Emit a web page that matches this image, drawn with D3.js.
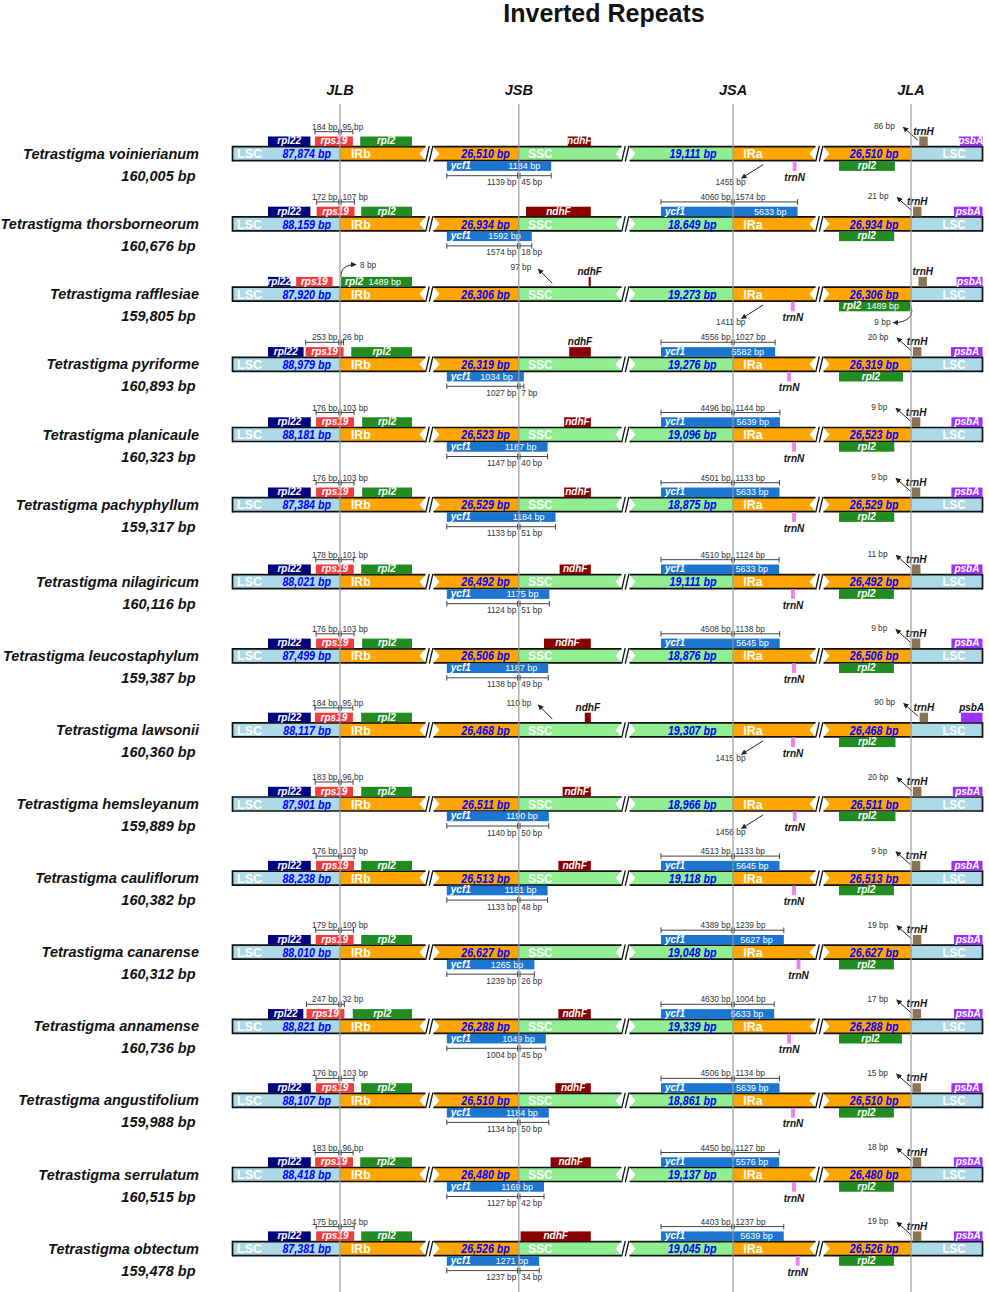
<!DOCTYPE html>
<html>
<head>
<meta charset="utf-8">
<title>Inverted Repeats</title>
<script src="https://cdn.jsdelivr.net/npm/d3@7/dist/d3.min.js"></script>
<style>
  body { margin: 0; background: #fff; }
  svg { display: block; font-family: "Liberation Sans", Arial, Helvetica, sans-serif; }
  .title { font-size: 25px; font-weight: bold; fill: #111; }
  .jname { font-size: 14.5px; font-weight: bold; font-style: italic; fill: #111; }
  .sp { font-size: 14.5px; font-weight: bold; font-style: italic; fill: #111; }
  .region { font-size: 13.5px; font-weight: bold; fill: #fff; }
  .bp { font-size: 13px; font-weight: bold; font-style: italic; fill: #0000ff; }
  .gene { font-size: 10px; font-weight: bold; font-style: italic; fill: #fff; }
  .geneOut { font-size: 10px; font-weight: bold; font-style: italic; fill: #111; }
  .size { font-size: 9px; fill: #fff; }
  .note { font-size: 8.3px; fill: #333; }
</style>
</head>
<body>
<div id="chart"></div>
<script>
// species, genome size and the four regions
const species = ["Tetrastigma voinierianum", "Tetrastigma thorsborneorum", "Tetrastigma rafflesiae",
  "Tetrastigma pyriforme", "Tetrastigma planicaule", "Tetrastigma pachyphyllum", "Tetrastigma nilagiricum",
  "Tetrastigma leucostaphylum", "Tetrastigma lawsonii", "Tetrastigma hemsleyanum", "Tetrastigma cauliflorum",
  "Tetrastigma canarense", "Tetrastigma annamense", "Tetrastigma angustifolium", "Tetrastigma serrulatum",
  "Tetrastigma obtectum"];
const genomeLen = [160005, 160676, 159805, 160893, 160323, 159317, 160116, 159387, 160360, 159889, 160382, 160312, 160736, 159988, 160515, 159478];
const lscLen = [87874, 88159, 87920, 88979, 88181, 87384, 88021, 87499, 88117, 87901, 88238, 88010, 88821, 88107, 88418, 87381];
const irLen = [26510, 26934, 26306, 26319, 26523, 26529, 26492, 26506, 26468, 26511, 26513, 26627, 26288, 26510, 26480, 26526];
const sscLen = [19111, 18649, 19273, 19276, 19096, 18875, 19111, 18876, 19307, 18966, 19118, 19048, 19339, 18861, 19137, 19045];
const panelRows = [6, 10]; // the figure is two stacked IRscope panels

// genes, in bp relative to each junction (negative = left of it)
const geneLen = { rpl22: 400, rpl2: 1489, ndhF: 2200, trnN: 95, trnH: 88, psbA: 1062 };

// JLB
const rpl22End = [-218, -218, -365, -268, -215, -215, -215, -215, -215, -215, -215, -215, -270, -215, -215, -215];
const rps19Span = [[-184, 95], [-172, 107], [-323, -55], [-253, 26], [-176, 103], [-176, 103], [-178, 101], [-176, 103],
  [-184, 95], [-183, 96], [-176, 103], [-179, 100], [-247, 32], [-176, 103], [-183, 96], [-175, 104]];
const rpl2Start = [149, 156, 8, 83, 163, 163, 156, 163, 156, 156, 156, 156, 94, 156, 149, 156];
const rpl2Size = [null, null, 1489, null, null, null, null, null, null, null, null, null, null, null, null, null];

// JSB
const ycf1Jsb = [[-1139, 45], [-1574, 18], null, [-1027, 7], [-1147, 40], [-1133, 51], [-1124, 51], [-1138, 49],
  null, [-1140, 50], [-1133, 48], [-1239, 26], [-1004, 45], [-1134, 50], [-1127, 42], [-1237, 34]];
const ycf1JsbSize = [1184, 1592, null, 1034, 1187, 1184, 1175, 1187, null, 1190, 1181, 1265, 1049, 1184, 1169, 1271];
const ndhFStart = [68, 10, 97, 70, 63, 63, 68, 42, 110, 73, 66, null, 66, 61, 53, 3];

// JSA
const ycf1Jsa = [null, [-4060, 1574], null, [-4556, 1027], [-4496, 1144], [-4501, 1133], [-4510, 1124], [-4508, 1138],
  null, null, [-4513, 1133], [-4389, 1239], [-4630, 1004], [-4506, 1134], [-4450, 1127], [-4403, 1237]];
const ycf1JsaSize = [null, 5633, null, 5582, 5639, 5633, 5633, 5645, null, null, 5645, 5627, 5633, 5639, 5576, 5639];
const trnNStart = [1455, null, 1411, 1320, 1440, 1440, 1415, 1440, 1415, 1456, 1440, 1550, 1320, 1415, 1440, 1530];

// JLA
const rpl2End = [-168, -175, -9, -84, -174, -174, -178, -178, -162, -162, -178, -178, -95, -178, -178, -178];
const trnHStart = [86, 21, 78, 20, 9, 9, 11, 9, 90, 20, 9, 19, 17, 15, 18, 19];
const psbAStart = [499, 447, 475, 416, 421, 421, 421, 421, 520, 436, 421, 447, 447, 421, 447, 447];

const junctions = ["JLB", "JSB", "JSA", "JLA"];
const regionNames = ["LSC", "IRb", "SSC", "IRa", "LSC"];

const regionColor = { LSC: "#add8e6", IR: "#ffa500", SSC: "#90ee90" };
const geneColor = { rpl22: "#000080", rps19: "#f23b3b", rpl2: "#228b22", ndhF: "#8b0000",
  ycf1: "#1c76cf", trnH: "#8b7355", psbA: "#9b30ff", trnN: "#ee82ee" };

// ---- layout ----
const W = 989, H = 1292;
const barX0 = 232.5, barX1 = 982.5;
const jx = { JLB: 340, JSB: 518.8, JSA: 733, JLA: 911 };
const breaks = [429.5, 625.5, 819.5];
const gap = 4, notch = 6, boxH = 9.7, win = 72;
const fmt = d3.format(",");

const svg = d3.select("#chart").append("svg").attr("width", W).attr("height", H);

svg.append("defs").append("marker")
  .attr("id", "head")
  .attr("viewBox", "0 0 10 10")
  .attr("refX", 9).attr("refY", 5)
  .attr("markerWidth", 5.5).attr("markerHeight", 5.5)
  .attr("markerUnits", "userSpaceOnUse")
  .attr("orient", "auto")
  .append("path").attr("d", "M0,0L10,5L0,10z").attr("fill", "#222");

// row centres, one scale for each stacked panel
const rowScales = [
  d3.scaleLinear().domain([0, panelRows[0] - 1]).range([153.7, 504.7]),
  d3.scaleLinear().domain([panelRows[0], panelRows[0] + panelRows[1] - 1]).range([581.7, 1248.6])
];
const panelOf = i => (i < panelRows[0] ? 0 : 1);
const rowY = i => rowScales[panelOf(i)](i);

// bp -> px around each junction, clamped to its window
const junctionScale = (x, span) => d3.scaleLinear().domain([-span, span]).range([x - win, x + win]).clamp(true);
const sJLB = junctionScale(jx.JLB, 530);
const sJSB = [junctionScale(jx.JSB, 100), junctionScale(jx.JSB, 120)];
const sJSA = junctionScale(jx.JSA, 1755);
const sJLA = junctionScale(jx.JLA, 750);

// title and junction headers
svg.append("text").attr("class", "title").attr("x", 604).attr("y", 22)
  .attr("text-anchor", "middle").text("Inverted Repeats");

junctions.forEach(j => {
  svg.append("text").attr("class", "jname").attr("x", jx[j]).attr("y", 95)
    .attr("text-anchor", "middle").text(j);
});

function squeezed(g, x, y, str, cls, anchor, sx) {
  g.append("text").attr("class", cls)
    .attr("transform", `translate(${x},${y}) scale(${sx},1)`)
    .attr("text-anchor", anchor).text(str);
}

function drawGene(g, cy, name, x0, x1, side, sizeText) {
  x1 = Math.min(x1, barX1);
  const y = side === "up" ? cy - 17.2 : cy + 7.5;
  const w = x1 - x0;
  g.append("rect").attr("x", x0).attr("y", y).attr("width", w).attr("height", boxH)
    .attr("fill", geneColor[name]);
  if (sizeText) {
    g.append("text").attr("class", "gene").attr("x", x0 + 4).attr("y", y + 7.8).text(name);
    g.append("text").attr("class", "size").attr("x", x1 - 11).attr("y", y + 7.8)
      .attr("text-anchor", "end").text(sizeText + " bp");
  } else if (name === "trnN") {
    g.append("text").attr("class", "geneOut").attr("x", x0 + w / 2).attr("y", y + boxH + 9.8)
      .attr("text-anchor", "middle").text(name);
  } else if (name === "trnH" || w < 22) {
    g.append("text").attr("class", "geneOut").attr("x", x0 + w / 2).attr("y", y - 1.8)
      .attr("text-anchor", "middle").text(name);
  } else {
    g.append("text").attr("class", "gene").attr("x", x0 + w / 2).attr("y", y + 7.8)
      .attr("text-anchor", "middle").text(name);
  }
}

function bracket(g, xL, xJ, xR, yLine, left, right, above) {
  const line = (a, b, c, d) => g.append("line")
    .attr("x1", a).attr("y1", b).attr("x2", c).attr("y2", d)
    .attr("stroke", "#444").attr("stroke-width", 1);
  line(xL, yLine, xR, yLine);
  [xL, xR, xJ - 1.2, xJ + 1.2].forEach(x => line(x, yLine - 2.8, x, yLine + 2.8));
  const ty = above ? yLine - 2 : yLine + 9.5;
  g.append("text").attr("class", "note").attr("x", xJ - 2.5).attr("y", ty)
    .attr("text-anchor", "end").text(left + " bp");
  g.append("text").attr("class", "note").attr("x", xJ + 2.5).attr("y", ty).text(right + " bp");
}

function arrow(g, d) {
  g.append("path").attr("d", d).attr("fill", "none").attr("stroke", "#222")
    .attr("stroke-width", 1).attr("marker-end", "url(#head)");
}

function note(g, x, y, str, anchor) {
  g.append("text").attr("class", "note").attr("x", x).attr("y", y)
    .attr("text-anchor", anchor).text(str);
}

species.forEach((name, i) => {
  const cy = rowY(i);
  const g = svg.append("g").attr("class", "row");
  const top = cy - 7, bot = cy + 7;
  const ty = cy + 4.6;

  // species label
  g.append("text").attr("class", "sp").attr("x", 199).attr("y", cy + 5)
    .attr("text-anchor", "end").text(name);
  g.append("text").attr("class", "sp").attr("x", 195.5).attr("y", cy + 27)
    .attr("text-anchor", "end").text(fmt(genomeLen[i]) + " bp");

  // genome bar pieces
  const pieces = [
    { x0: barX0, x1: jx.JLB, c: regionColor.LSC },
    { x0: jx.JLB, x1: breaks[0] - gap, c: regionColor.IR, nR: true },
    { x0: breaks[0] + gap, x1: jx.JSB, c: regionColor.IR, nL: true },
    { x0: jx.JSB, x1: breaks[1] - gap, c: regionColor.SSC, nR: true },
    { x0: breaks[1] + gap, x1: jx.JSA, c: regionColor.SSC, nL: true },
    { x0: jx.JSA, x1: breaks[2] - gap, c: regionColor.IR, nR: true },
    { x0: breaks[2] + gap, x1: jx.JLA, c: regionColor.IR, nL: true },
    { x0: jx.JLA, x1: barX1, c: regionColor.LSC }
  ];
  pieces.forEach(p => {
    const pts = [[p.x0, top], [p.x1, top]];
    if (p.nR) pts.push([p.x1 - notch, cy]);
    pts.push([p.x1, bot], [p.x0, bot]);
    if (p.nL) pts.push([p.x0 + notch, cy]);
    g.append("polygon").attr("points", pts.map(d => d.join(",")).join(" ")).attr("fill", p.c);
  });

  // outline of the bar, broken at the three cuts
  const runs = [[barX0, breaks[0] - gap], [breaks[0] + gap, breaks[1] - gap],
    [breaks[1] + gap, breaks[2] - gap], [breaks[2] + gap, barX1]];
  runs.forEach(([a, b]) => {
    [top, bot].forEach(y => g.append("line").attr("x1", a).attr("x2", b).attr("y1", y).attr("y2", y)
      .attr("stroke", "#111").attr("stroke-width", 1.7));
  });
  [barX0, barX1].forEach(x => g.append("line").attr("x1", x).attr("x2", x)
    .attr("y1", top - 0.85).attr("y2", bot + 0.85).attr("stroke", "#111").attr("stroke-width", 1.7));
  breaks.forEach(b => {
    [-3.8, -0.2].forEach(o => g.append("line")
      .attr("x1", b + o).attr("y1", bot + 0.8).attr("x2", b + o + 3.6).attr("y2", top - 0.8)
      .attr("stroke", "#111").attr("stroke-width", 1.3));
  });

  // region names and lengths inside the bar
  squeezed(g, 237, ty, regionNames[0], "region", "start", 0.93);
  squeezed(g, jx.JLB + 11, ty, regionNames[1], "region", "start", 0.9);
  squeezed(g, jx.JSB + 9.5, ty, regionNames[2], "region", "start", 0.87);
  squeezed(g, jx.JSA + 10.3, ty, regionNames[3], "region", "start", 0.92);
  squeezed(g, 954, ty, regionNames[4], "region", "middle", 0.85);
  squeezed(g, 331, ty, fmt(lscLen[i]) + " bp", "bp", "end", 0.82);
  squeezed(g, jx.JSB - 9, ty, fmt(irLen[i]) + " bp", "bp", "end", 0.82);
  squeezed(g, 716.5, ty, fmt(sscLen[i]) + " bp", "bp", "end", 0.82);
  squeezed(g, 898.4, ty, fmt(irLen[i]) + " bp", "bp", "end", 0.82);

  // ---- JLB ----
  drawGene(g, cy, "rpl22", sJLB(rpl22End[i] - geneLen.rpl22), sJLB(rpl22End[i]), "up");
  const rs = rps19Span[i];
  drawGene(g, cy, "rps19", sJLB(rs[0]), sJLB(rs[1]), "up");
  if (rs[0] < 0 && rs[1] > 0) {
    bracket(g, sJLB(rs[0]), jx.JLB, sJLB(rs[1]), cy - 22, -rs[0], rs[1], true);
  }
  drawGene(g, cy, "rpl2", sJLB(rpl2Start[i]), sJLB(rpl2Start[i] + geneLen.rpl2), "up", rpl2Size[i]);
  if (rpl2Start[i] < 50) {
    const J = jx.JLB;
    arrow(g, `M${J + 0.8},${cy - 17.2} C${J + 0.8},${cy - 25} ${J + 5},${cy - 29.5} ${J + 16},${cy - 29.5}`);
    note(g, J + 20, cy - 26.3, rpl2Start[i] + " bp", "start");
  }

  // ---- JSB ----
  const sB = sJSB[panelOf(i)];
  if (ndhFStart[i] != null) {
    drawGene(g, cy, "ndhF", sB(ndhFStart[i]), sB(ndhFStart[i] + geneLen.ndhF), "up");
  }
  const yb = ycf1Jsb[i];
  if (yb) {
    drawGene(g, cy, "ycf1", sB(yb[0]), sB(yb[1]), "down", ycf1JsbSize[i]);
    bracket(g, sB(yb[0]), jx.JSB, sB(yb[1]), cy + 22, -yb[0], yb[1], false);
  } else if (ndhFStart[i] != null) {
    const J = jx.JSB;
    arrow(g, `M${J + 33.5},${cy - 10.8} L${J + 19.5},${cy - 25}`);
    note(g, J + 12.5, cy - 24, ndhFStart[i] + " bp", "end");
  }

  // ---- JSA ----
  if (trnNStart[i] != null) {
    drawGene(g, cy, "trnN", sJSA(trnNStart[i]), sJSA(trnNStart[i] + geneLen.trnN), "down");
  }
  const ya = ycf1Jsa[i];
  if (ya) {
    drawGene(g, cy, "ycf1", sJSA(ya[0]), sJSA(ya[1]), "up", ycf1JsaSize[i]);
    bracket(g, sJSA(ya[0]), jx.JSA, sJSA(ya[1]), cy - 22, -ya[0], ya[1], true);
  } else if (trnNStart[i] != null) {
    const J = jx.JSA;
    arrow(g, `M${J + 30},${cy + 11} L${J + 8.5},${cy + 24.5}`);
    note(g, J + 12.5, cy + 30.8, trnNStart[i] + " bp", "end");
  }

  // ---- JLA ----
  drawGene(g, cy, "rpl2", sJLA(rpl2End[i] - geneLen.rpl2), sJLA(rpl2End[i]), "down", rpl2Size[i]);
  const tx0 = sJLA(trnHStart[i]);
  drawGene(g, cy, "trnH", tx0, sJLA(trnHStart[i] + geneLen.trnH), "up");
  drawGene(g, cy, "psbA", sJLA(psbAStart[i]), sJLA(psbAStart[i] + geneLen.psbA), "up");
  if (-rpl2End[i] < 50) {
    const J = jx.JLA;
    arrow(g, `M${J - 1.5},${cy + 10.5} C${J + 3.5},${cy + 17} ${J + 1},${cy + 28.5} ${J - 17.5},${cy + 28.5}`);
    note(g, J - 20.5, cy + 31, -rpl2End[i] + " bp", "end");
  } else {
    const tx = tx0 - 1.5;
    arrow(g, `M${tx},${cy - 13.5} L${tx - 14.5},${cy - 26.5}`);
    note(g, tx - 23, cy - 24.5, trnHStart[i] + " bp", "end");
  }
});

// junction lines on top
junctions.forEach(j => {
  svg.append("line").attr("x1", jx[j]).attr("x2", jx[j]).attr("y1", 104).attr("y2", H)
    .attr("stroke", "#9a9a9a").attr("stroke-width", 1.2);
});
</script>
</body>
</html>
